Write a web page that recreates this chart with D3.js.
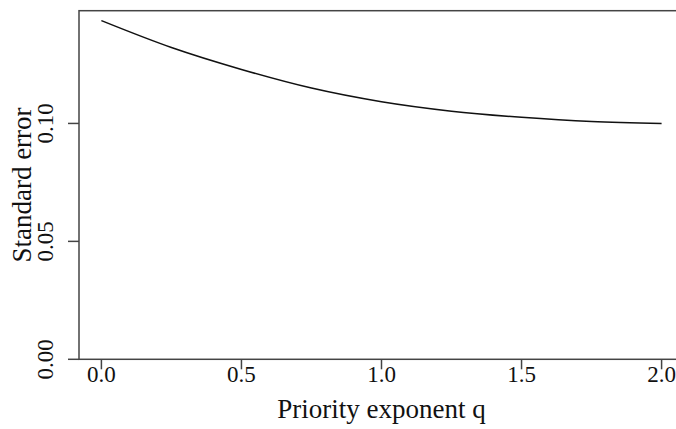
<!DOCTYPE html>
<html>
<head>
<meta charset="utf-8">
<script src="https://cdn.jsdelivr.net/npm/d3@7"></script>
<style>
  html, body { margin: 0; padding: 0; background: #fff; }
  svg { display: block; }
</style>
</head>
<body>
<div id="chart"></div>
<script>
// priority exponent q and the standard error
const qValues = [0, 0.25, 0.5, 0.75, 1.0, 1.25, 1.5, 1.75, 2.0];
const seValues = [0.1436, 0.1322, 0.1229, 0.1150, 0.1092, 0.1052, 0.1026, 0.1008, 0.1000];

const xTicks = [0, 0.5, 1.0, 1.5, 2.0];
const yTicks = [0, 0.05, 0.10];

const width = 676;
const height = 429;
const serif = "'Liberation Serif', 'Times New Roman', Times, 'DejaVu Serif', serif";

const svg = d3.select('#chart')
    .append('svg')
    .attr('width', width)
    .attr('height', height)
    .attr('font-family', serif);

// R-style plot region: x padded by 4 %, the right edge runs off the picture
const x = d3.scaleLinear().domain([-0.08, 2.08]).range([79, 684]);
const y = d3.scaleLinear().domain([0, 0.1478]).range([359.3, 10.7]);

const axisColor = '#444';
const textColor = '#111';

// box
svg.append('rect')
    .attr('x', x(-0.08))
    .attr('y', y(0.1478))
    .attr('width', x(2.08) - x(-0.08))
    .attr('height', y(0) - y(0.1478))
    .attr('fill', 'none')
    .attr('stroke', axisColor)
    .attr('stroke-width', 1.5);

// x axis ticks and labels
const xAxis = svg.append('g');
xAxis.selectAll('line')
    .data(xTicks)
    .enter().append('line')
    .attr('x1', d => x(d))
    .attr('x2', d => x(d))
    .attr('y1', y(0))
    .attr('y2', y(0) + 10)
    .attr('stroke', axisColor)
    .attr('stroke-width', 1.5);
xAxis.selectAll('text')
    .data(xTicks)
    .enter().append('text')
    .attr('x', d => x(d))
    .attr('y', 382)
    .attr('text-anchor', 'middle')
    .attr('font-family', serif)
    .attr('font-size', 23)
    .attr('fill', textColor)
    .text(d => d3.format('.1f')(d));

// y axis ticks and rotated labels
const yAxis = svg.append('g');
yAxis.selectAll('line')
    .data(yTicks)
    .enter().append('line')
    .attr('x1', x(-0.08))
    .attr('x2', x(-0.08) - 11)
    .attr('y1', d => y(d))
    .attr('y2', d => y(d))
    .attr('stroke', axisColor)
    .attr('stroke-width', 1.5);
yAxis.selectAll('text')
    .data(yTicks)
    .enter().append('text')
    .attr('transform', d => `translate(53,${y(d)}) rotate(-90)`)
    .attr('text-anchor', 'middle')
    .attr('font-family', serif)
    .attr('font-size', 23)
    .attr('fill', textColor)
    .text(d => d3.format('.2f')(d));

// axis titles
svg.append('text')
    .attr('x', (x(0) + x(2)) / 2)
    .attr('y', 418)
    .attr('text-anchor', 'middle')
    .attr('font-family', serif)
    .attr('font-size', 27)
    .attr('fill', textColor)
    .text('Priority exponent q');

svg.append('text')
    .attr('transform', `translate(31,${(y(0) + y(0.1478)) / 2}) rotate(-90)`)
    .attr('text-anchor', 'middle')
    .attr('font-family', serif)
    .attr('font-size', 27)
    .attr('fill', textColor)
    .text('Standard error');

// the curve
const points = qValues.map((q, i) => ({ q: q, se: seValues[i] }));
const line = d3.line()
    .x(d => x(d.q))
    .y(d => y(d.se))
    .curve(d3.curveMonotoneX);

svg.append('path')
    .datum(points)
    .attr('d', line)
    .attr('fill', 'none')
    .attr('stroke', '#111')
    .attr('stroke-width', 1.6);
</script>
</body>
</html>
